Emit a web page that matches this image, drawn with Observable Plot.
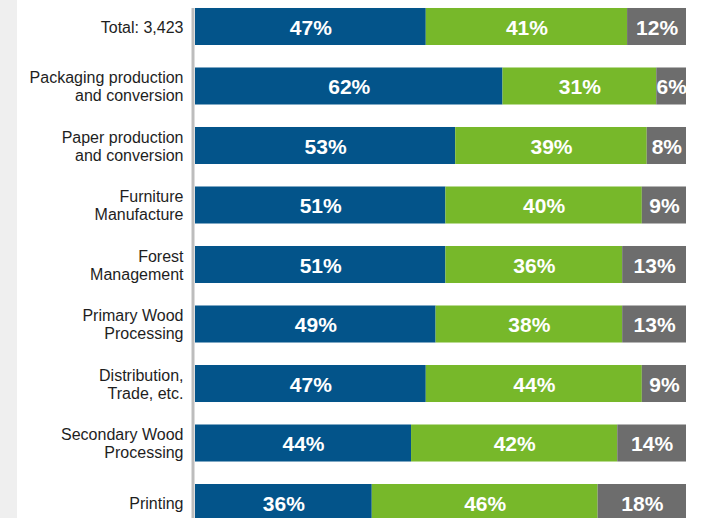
<!DOCTYPE html>
<html><head><meta charset="utf-8">
<script src="https://cdn.jsdelivr.net/npm/d3@7"></script>
<script src="https://cdn.jsdelivr.net/npm/@observablehq/plot@0.6"></script>
<style>
html,body{margin:0;padding:0;background:#fff;}
#chart{width:706px;height:518px;background:linear-gradient(to right,#efefef 0,#efefef 17px,#fff 17px);overflow:hidden;}
#chart svg{display:block;}
</style></head><body><div id="chart"></div>
<script>
const categories = [
  "Total: 3,423",
  "Packaging production\nand conversion",
  "Paper production\nand conversion",
  "Furniture\nManufacture",
  "Forest\nManagement",
  "Primary Wood\nProcessing",
  "Distribution,\nTrade, etc.",
  "Secondary Wood\nProcessing",
  "Printing"
];
const seriesNames = ["Segment 1", "Segment 2", "Segment 3"];
const blueValues  = [47, 62, 53, 51, 51, 49, 47, 44, 36];
const greenValues = [41, 31, 39, 40, 36, 38, 44, 42, 46];
const grayValues  = [12,  6,  8,  9, 13, 13,  9, 14, 18];
const seriesColors = ["#03548a", "#77b82a", "#6d6d6d"];

const rows = categories.flatMap((c, i) => [
  {category: c, series: seriesNames[0], value: blueValues[i]},
  {category: c, series: seriesNames[1], value: greenValues[i]},
  {category: c, series: seriesNames[2], value: grayValues[i]}
]);

const plot = Plot.plot({
  width: 706, height: 518,
  marginLeft: 195, marginRight: 20, marginTop: 8, marginBottom: 0,
  style: {background: "transparent", fontFamily: "'Liberation Sans', Arial, Helvetica, sans-serif"},
  x: {axis: null, domain: [0, 1]},
  y: {domain: categories, range: [-14.5, 543.5], padding: 0.378, round: false},
  color: {domain: seriesNames, range: seriesColors},
  marks: [
    Plot.barX(rows, Plot.stackX({x: "value", y: "category", fill: "series", order: seriesNames, offset: "normalize"})),
    Plot.text(rows, Plot.stackX({x: "value", y: "category", z: "series", order: seriesNames, offset: "normalize",
      text: d => d.value + "%", fill: "white", fontWeight: "bold", fontSize: 21, dy: 1,
      fontFamily: "'Liberation Sans', Arial, Helvetica, sans-serif"})),
    Plot.ruleX([0], {stroke: "#bdbdbd", strokeWidth: 3, dx: -2.5}),
    Plot.axisY({tickSize: 0, tickPadding: 12, fontSize: 16, lineHeight: 1.13, color: "#1e1e1e", label: null})
  ]
});
document.getElementById("chart").appendChild(plot);
</script></body></html>
